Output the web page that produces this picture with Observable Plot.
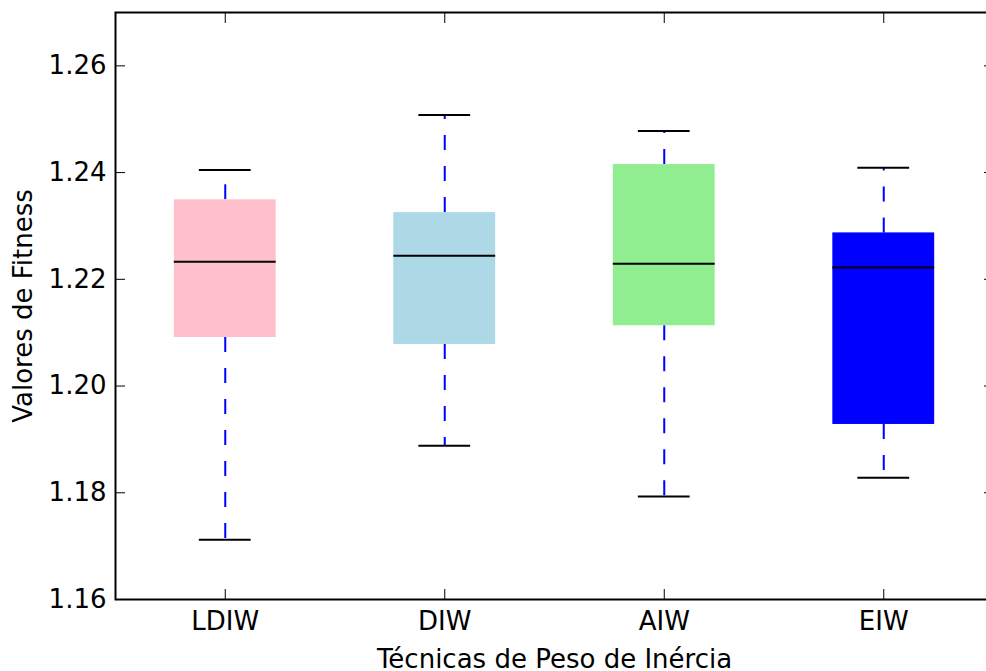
<!DOCTYPE html>
<html>
<head>
<meta charset="utf-8">
<script src="https://cdn.jsdelivr.net/npm/d3@7"></script>
<script src="https://cdn.jsdelivr.net/npm/@observablehq/plot@0.6"></script>
<style>
  html, body { margin: 0; padding: 0; background: #fff; overflow: hidden; }
  #chart svg { display: block; max-width: none !important; overflow: hidden; }
</style>
</head>
<body>
<div id="chart"></div>
<script>
const categories = ["LDIW", "DIW", "AIW", "EIW"];
const whiskerLow  = [1.1712, 1.1888, 1.1793, 1.1828];
const q1          = [1.2091, 1.2078, 1.2113, 1.1928];
const median      = [1.2233, 1.2244, 1.2229, 1.2222];
const q3          = [1.2349, 1.2325, 1.2415, 1.2287];
const whiskerHigh = [1.2405, 1.2508, 1.2478, 1.2409];
const boxColors   = ["#ffc0cb", "#add8e6", "#90ee90", "#0000ff"];
const yTicks      = [1.16, 1.18, 1.20, 1.22, 1.24, 1.26];

const boxHalf = 0.232;
const capHalf = 0.118;

const data = categories.map((name, i) => ({
  name, pos: i + 1,
  lo: whiskerLow[i], q1: q1[i], med: median[i], q3: q3[i], hi: whiskerHigh[i],
  color: boxColors[i]
}));

const font = "DejaVu Sans, sans-serif";
const fs = 26;

const chart = Plot.plot({
  width: 986,
  height: 671,
  marginLeft: 115,
  marginRight: -7,
  marginTop: 12,
  marginBottom: 72,
  style: { fontFamily: font, background: "#fff", maxWidth: "none", overflow: "hidden" },
  x: { domain: [0.5, 4.5] },
  y: { domain: [1.16, 1.27] },
  marks: [
    Plot.ruleX(data, { x: "pos", y1: "q3", y2: "hi", stroke: "#0000ff", strokeWidth: 2, strokeDasharray: "15,16" }),
    Plot.ruleX(data, { x: "pos", y1: "q1", y2: "lo", stroke: "#0000ff", strokeWidth: 2, strokeDasharray: "15,16" }),
    Plot.rect(data, { x1: d => d.pos - boxHalf, x2: d => d.pos + boxHalf, y1: "q1", y2: "q3", fill: "color" }),
    Plot.ruleY(data, { y: "med", x1: d => d.pos - boxHalf, x2: d => d.pos + boxHalf, stroke: "black", strokeWidth: 2 }),
    Plot.ruleY(data, { y: "hi", x1: d => d.pos - capHalf, x2: d => d.pos + capHalf, stroke: "black", strokeWidth: 2 }),
    Plot.ruleY(data, { y: "lo", x1: d => d.pos - capHalf, x2: d => d.pos + capHalf, stroke: "black", strokeWidth: 2 }),
    Plot.axisY({ anchor: "left", ticks: yTicks, tickSize: 10, dx: 10, tickFormat: () => "", label: null, stroke: "black" }),
    Plot.axisY({ anchor: "right", ticks: yTicks, tickSize: 10, dx: -10, tickFormat: () => "", label: null, stroke: "black" }),
    Plot.axisX({ anchor: "bottom", ticks: [1, 2, 3, 4], tickSize: 10, dy: -10, tickFormat: () => "", label: null, stroke: "black" }),
    Plot.axisX({ anchor: "top", ticks: [1, 2, 3, 4], tickSize: 10, dy: 10, tickFormat: () => "", label: null, stroke: "black" }),
    Plot.axisY({ anchor: "left", ticks: yTicks, tickSize: 0, tickPadding: 9, tickFormat: d3.format(".2f"), label: null, fontSize: fs, fill: "black" }),
    Plot.axisX({ anchor: "bottom", ticks: [1, 2, 3, 4], tickSize: 0, tickPadding: 12, tickFormat: d => categories[d - 1], label: null, fontSize: fs, fill: "black" }),
    Plot.text(["Técnicas de Peso de Inércia"], { frameAnchor: "bottom", dy: 60, text: d => d, fontSize: fs, fill: "black", textAnchor: "middle", lineAnchor: "middle" }),
    Plot.text(["Valores de Fitness"], { frameAnchor: "left", dx: -92, rotate: -90, text: d => d, fontSize: fs, fill: "black", textAnchor: "middle", lineAnchor: "middle" }),
    Plot.frame({ stroke: "black", strokeWidth: 2 })
  ]
});

document.getElementById("chart").appendChild(chart);
</script>
</body>
</html>
